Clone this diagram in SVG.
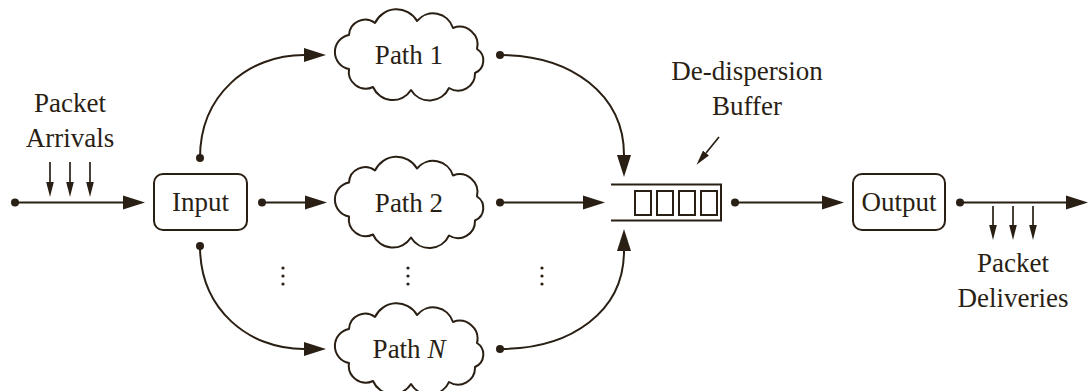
<svg xmlns="http://www.w3.org/2000/svg" width="1089" height="391" viewBox="0 0 1089 391">
<style>
text{font-family:"Liberation Serif","Times New Roman",serif;font-size:27px;fill:#2a1f14;text-anchor:middle}
.ln{fill:none;stroke:#2a1f14;stroke-width:2}
.thin{fill:none;stroke:#2a1f14;stroke-width:1.7}
.box{fill:#fff;stroke:#2a1f14;stroke-width:2}
.dot{fill:#2a1f14}
.cl{fill:#fff;stroke:#2a1f14;stroke-width:2;stroke-linejoin:round}
</style>
<defs>
<marker id="ah" markerUnits="userSpaceOnUse" markerWidth="24" markerHeight="16" viewBox="0 -8 24 16" refX="0" refY="0" orient="auto">
<path d="M0,-7 L22,0 L0,7 z" fill="#2a1f14"/>
</marker>
<marker id="sh" markerUnits="userSpaceOnUse" markerWidth="16" markerHeight="10" viewBox="0 -5 16 10" refX="0" refY="0" orient="auto">
<path d="M0,-3.8 L15,0 L0,3.8 z" fill="#2a1f14"/>
</marker>
<path id="cloud" d="M-60,-20 A16.2,16.2 0 0 1 -34,-32 A23.8,23.8 0 0 1 8,-34 A20.8,20.8 0 0 1 44,-27 A18,18 0 0 1 68,-6 A13.6,13.6 0 0 1 66,18 A17,17 0 0 1 40,33 A21.5,21.5 0 0 1 2,35 A21.5,21.5 0 0 1 -36,32 A17,17 0 0 1 -60,14 A17.3,17.3 0 0 1 -60,-20 z"/>
</defs>

<g id="connectors">
<path class="ln" d="M15,202.5 H123" marker-end="url(#ah)"/>
<path class="thin" d="M50,162 V182" marker-end="url(#sh)"/>
<path class="thin" d="M70,162 V182" marker-end="url(#sh)"/>
<path class="thin" d="M90,162 V182" marker-end="url(#sh)"/>
<path class="ln" d="M200,158 C200,95 248,55 304,55" marker-end="url(#ah)"/>
<path class="ln" d="M262,202.5 H305" marker-end="url(#ah)"/>
<path class="ln" d="M200,246 C200,309 248,349 304,349" marker-end="url(#ah)"/>
<path class="ln" d="M500,55 C572,55 624,95 624,155" marker-end="url(#ah)"/>
<path class="ln" d="M500,202.5 H583" marker-end="url(#ah)"/>
<path class="ln" d="M500,349 C572,349 624,311 624,251" marker-end="url(#ah)"/>
<path class="ln" d="M735,202.5 H822" marker-end="url(#ah)"/>
<path class="ln" d="M960,202.5 H1066" marker-end="url(#ah)"/>
<path class="thin" d="M993,206 V225" marker-end="url(#sh)"/>
<path class="thin" d="M1013,206 V225" marker-end="url(#sh)"/>
<path class="thin" d="M1033,206 V225" marker-end="url(#sh)"/>
<path class="thin" d="M719,137 L706,153" marker-end="url(#sh)"/>
<circle class="dot" cx="15" cy="202.5" r="4"/>
<circle class="dot" cx="200" cy="158" r="4"/>
<circle class="dot" cx="262" cy="202.5" r="4"/>
<circle class="dot" cx="200" cy="246" r="4"/>
<circle class="dot" cx="500" cy="55" r="4"/>
<circle class="dot" cx="500" cy="202.5" r="4"/>
<circle class="dot" cx="500" cy="349" r="4"/>
<circle class="dot" cx="735" cy="202.5" r="4"/>
<circle class="dot" cx="960" cy="202.5" r="4"/>
</g>

<g id="arrivals-label">
<text x="70" y="112">Packet</text>
<text x="70" y="147">Arrivals</text>
</g>

<g id="input">
<rect class="box" x="154" y="174" width="93" height="56" rx="9"/>
<text x="200.5" y="211">Input</text>
</g>

<g id="path1">
<use href="#cloud" class="cl" x="409" y="55"/>
<text x="409" y="64">Path 1</text>
</g>
<g id="path2">
<use href="#cloud" class="cl" x="409" y="202.5"/>
<text x="409" y="211.5">Path 2</text>
</g>
<g id="pathN">
<use href="#cloud" class="cl" x="409" y="349"/>
<text x="409" y="358">Path <tspan font-style="italic">N</tspan></text>
</g>

<g id="ellipses" fill="#2a1f14">
<circle cx="283" cy="268" r="1.6"/><circle cx="283" cy="276" r="1.6"/><circle cx="283" cy="284" r="1.6"/>
<circle cx="408" cy="268" r="1.6"/><circle cx="408" cy="276" r="1.6"/><circle cx="408" cy="284" r="1.6"/>
<circle cx="542" cy="268" r="1.6"/><circle cx="542" cy="276" r="1.6"/><circle cx="542" cy="284" r="1.6"/>
</g>

<g id="buffer">
<path class="ln" d="M611,184.5 H721 V220.5 H611"/>
<rect class="ln" x="635" y="191" width="16" height="24"/>
<rect class="ln" x="657" y="191" width="16" height="24"/>
<rect class="ln" x="679" y="191" width="16" height="24"/>
<rect class="ln" x="701" y="191" width="16" height="24"/>
</g>
<g id="buffer-label">
<text x="747" y="80">De-dispersion</text>
<text x="747" y="115">Buffer</text>
</g>

<g id="output">
<rect class="box" x="853" y="174" width="92" height="56" rx="9"/>
<text x="899" y="211">Output</text>
</g>

<g id="deliveries-label">
<text x="1013" y="272">Packet</text>
<text x="1013" y="307">Deliveries</text>
</g>
</svg>
